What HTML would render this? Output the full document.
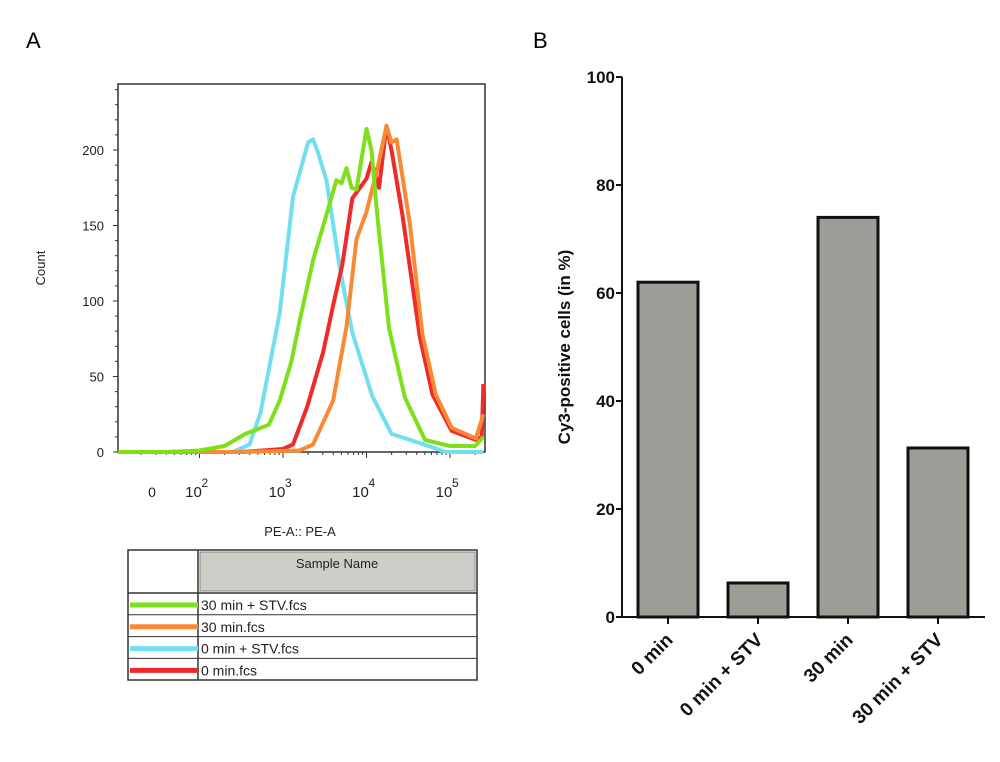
<!DOCTYPE html>
<html><head><meta charset="utf-8"><style>
body{margin:0;background:#fff;width:1000px;height:757px;overflow:hidden;font-family:"Liberation Sans",sans-serif}
</style></head><body>
<svg id="s" width="1000" height="757" xmlns="http://www.w3.org/2000/svg">
<text x="26" y="48" font-size="22">A</text>
<text x="533" y="48" font-size="22">B</text>
<g id="A"></g>
<g id="B"></g>
</svg>
<script>
// ---- Panel A data (x = log10 of PE-A intensity, y = count) ----
const greenX=[1.6,2.0,2.3,2.55,2.83,2.96,3.1,3.2,3.36,3.52,3.64,3.7,3.76,3.82,3.88,4.0,4.06,4.12,4.27,4.46,4.7,5.0,5.3,5.4];
const greenY=[0,1,4,12,18,34,60,87,127,157,180,178,188,175,174,214,200,162,82,36,8,4,4,10];
const orangeX=[1.6,2.5,3.2,3.36,3.6,3.76,3.88,4.0,4.14,4.24,4.3,4.36,4.52,4.67,4.83,5.02,5.31,5.4];
const orangeY=[0,0,1,5,34,83,141,159,190,216,205,207,151,78,38,16,9,25];
const cyanX=[1.6,2.4,2.6,2.73,2.96,3.12,3.3,3.36,3.42,3.52,3.68,3.83,4.07,4.3,4.63,4.95,5.4];
const cyanY=[0,0,5,26,92,169,205,207,198,180,122,79,37,12,6,0,0];
const redX=[1.6,2.5,3.0,3.12,3.29,3.48,3.6,3.71,3.83,4.0,4.06,4.15,4.24,4.3,4.43,4.64,4.79,5.02,5.31,5.38,5.4];
const redY=[0,0,2,5,30,66,97,124,168,181,192,175,216,200,157,76,38,14,8,10,45];
const legendNames=["30 min + STV.fcs","30 min.fcs","0 min + STV.fcs","0 min.fcs"];
const yTicksA=[0,50,100,150,200];
// ---- Panel B data ----
const categories=["0 min","0 min + STV","30 min","30 min + STV"];
const values=[62,6.3,74,31.3];
const yTicksB=[0,20,40,60,80,100];

const NS="http://www.w3.org/2000/svg";
function el(tag,attrs,parent,txt){const e=document.createElementNS(NS,tag);for(const k in attrs)e.setAttribute(k,attrs[k]);if(txt!==undefined)e.textContent=txt;parent.appendChild(e);return e;}
const A=document.getElementById('A'),B=document.getElementById('B');
// Axes A
const x0=118,x1=485,y0=452,yTop=84;
const xA=l=>283+(l-3)*83.5;
const yA=c=>y0-c*1.51;
let r=el('rect',{x:x0,y:yTop,width:x1-x0,height:y0-yTop,fill:'none',stroke:'#333','stroke-width':1.5},A);


for(let c=0;c<=240;c+=10){const t=el('line',{x1:x0-(c%50==0?5:3),x2:x0,y1:yA(c),y2:yA(c),stroke:'#333'},A);}
yTicksA.forEach(v=>{const t=el('text',{x:x0-14,y:yA(v)+5,'text-anchor':'end','font-size':13,fill:'#222'},A,String(v));});
let cl=el('text',{x:45,y:268,'text-anchor':'middle','font-size':13,transform:'rotate(-90 45 268)',fill:'#222'},A,'Count');

// x ticks
for(let d=1;d<=5;d++){for(let m=1;m<10;m++){const l=d+Math.log10(m);const px=xA(l);if(px<x0||px>x1)continue;const t=el('line',{x1:px,x2:px,y1:y0,y2:y0+(m==1?6:3),stroke:'#333'},A);}}
const zl=el('text',{x:152,y:497,'text-anchor':'middle','font-size':14,fill:'#222'},A,'0');
[2,3,4,5].forEach(d=>{const t=el('text',{x:xA(d)-6,y:497,'text-anchor':'middle','font-size':15,fill:'#222'},A,'10');
const s=el('text',{x:xA(d)+2,y:487,'font-size':12,fill:'#222'},A,String(d));});
const xt=el('text',{x:300,y:536,'text-anchor':'middle','font-size':13,fill:'#222'},A,'PE-A:: PE-A');
// series
const series=[[cyanX,cyanY,'#72dff0','cyan-curve'],[redX,redY,'#f02a2a','red-curve'],[orangeX,orangeY,'#f98a35','orange-curve'],[greenX,greenY,'#7ee01a','green-curve']];
series.forEach(([xs,ys,col,nm])=>{let d='M'+x0+','+y0;xs.forEach((v,i)=>{d+=' L'+Math.min(x1,xA(v)).toFixed(1)+','+yA(ys[i]).toFixed(1);});
const p=el('path',{d:d,fill:'none',stroke:col,'stroke-width':4,'stroke-linejoin':'round'},A);});
// legend table
const lg=el('g',{},A);
el('rect',{x:128,y:550,width:349,height:130,fill:'#fff',stroke:'#333','stroke-width':1.5},lg);
el('rect',{x:200,y:552,width:275,height:39,fill:'#cfcdc8',stroke:'#888'},lg);
el('line',{x1:198,x2:198,y1:550,y2:680,stroke:'#333','stroke-width':1.5},lg);
el('line',{x1:128,x2:477,y1:593,y2:593,stroke:'#333','stroke-width':1.5},lg);
const ht=el('text',{x:337,y:568,'text-anchor':'middle','font-size':13,fill:'#222'},lg,'Sample Name');
const lcols=['#7ee01a','#f98a35','#72dff0','#f02a2a'];
legendNames.forEach((n,i)=>{const yy=593+i*21.8;
if(i>0)el('line',{x1:128,x2:477,y1:yy,y2:yy,stroke:'#333'},lg);
const sw=el('line',{x1:130,x2:198,y1:yy+12,y2:yy+12,stroke:lcols[i],'stroke-width':5},lg);
const t=el('text',{x:201,y:yy+17,'font-size':14,fill:'#222'},lg,n);});
// ---- Panel B ----
const bx0=622,bx1=985,by0=617;
const yB=v=>by0-v*5.4;
const xB=i=>668+i*90;
const ax=el('path',{d:`M${bx0},${yB(100)} L${bx0},${by0} L${bx1},${by0}`,fill:'none',stroke:'#111','stroke-width':2},B);

yTicksB.forEach(v=>{el('line',{x1:bx0-6,x2:bx0,y1:yB(v),y2:yB(v),stroke:'#111','stroke-width':2},B);
const t=el('text',{x:bx0-7,y:yB(v)+6,'text-anchor':'end','font-size':17,'font-weight':'bold',fill:'#111'},B,String(v));});
const yt=el('text',{x:570,y:347,'text-anchor':'middle','font-size':17,'font-weight':'bold',transform:'rotate(-90 570 347)',fill:'#111'},B,'Cy3-positive cells (in %)');

categories.forEach((c,i)=>{const cx=xB(i);
const b=el('rect',{x:cx-30,y:yB(values[i]),width:60,height:by0-yB(values[i]),fill:'#9a9e96',stroke:'#111','stroke-width':3},B);

el('line',{x1:cx,x2:cx,y1:by0,y2:by0+7,stroke:'#111','stroke-width':2},B);
const t=el('text',{x:cx+6,y:by0+24,'text-anchor':'end','font-size':19,'font-weight':'bold',transform:`rotate(-45 ${cx+6} ${by0+24})`,fill:'#111'},B,c);
});
</script>
</body></html>
